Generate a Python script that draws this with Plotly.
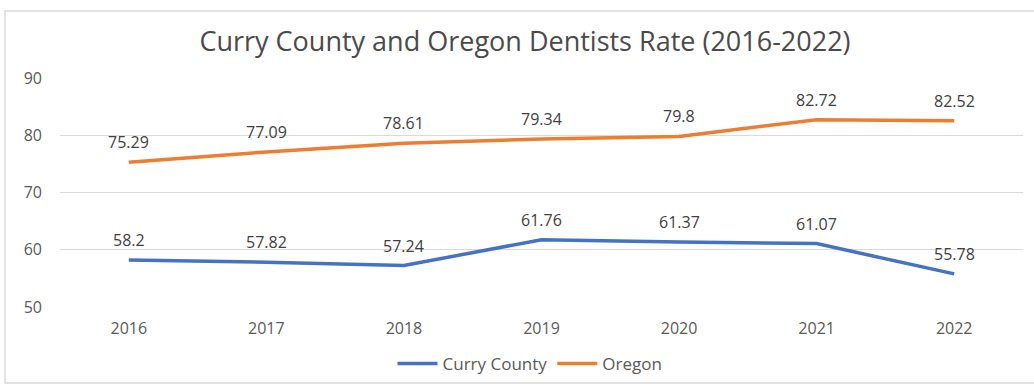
import plotly.graph_objects as go

years = ["2016", "2017", "2018", "2019", "2020", "2021", "2022"]
curry = [58.2, 57.82, 57.24, 61.76, 61.37, 61.07, 55.78]
oregon = [75.29, 77.09, 78.61, 79.34, 79.8, 82.72, 82.52]
y_ticks = [50, 60, 70, 80, 90]

W, H = 1034, 385
L, R, T, B = 60, 11, 78, 78
FONT = "Open Sans"

fig = go.Figure()
fig.add_trace(go.Scatter(
    x=years, y=curry, name="Curry County", mode="lines",
    line=dict(color="#4472C4", width=3.5),
))
fig.add_trace(go.Scatter(
    x=years, y=oregon, name="Oregon", mode="lines",
    line=dict(color="#ED7D31", width=3.5),
))

for series in (curry, oregon):
    for i, v in enumerate(series):
        fig.add_annotation(x=i, y=v, text=f"{v:g}", showarrow=False,
                           yshift=20, xanchor="center", yanchor="middle",
                           font=dict(family=FONT, size=16, color="#404040"))

pw = W - L - R
ph = H - T - B
def px(x):
    return (x - L) / pw
def py(y):
    return (H - B - y) / ph

fig.add_shape(type="rect", xref="paper", yref="paper",
              x0=px(5), x1=px(1080), y0=py(383), y1=py(11),
              line=dict(color="#D9D9D9", width=1.5), fillcolor="rgba(0,0,0,0)", layer="below")

fig.update_layout(
    width=W, height=H,
    margin=dict(l=L, r=R, t=T, b=B, autoexpand=False),
    paper_bgcolor="white", plot_bgcolor="white",
    title=dict(text="Curry County and Oregon Dentists Rate (2016-2022)",
               x=525 / W, xanchor="center", y=1 - 42 / H, yanchor="middle",
               font=dict(family=FONT, size=27, color="#4a4a4a")),
    xaxis=dict(type="category", range=[-0.5, 6.5], showgrid=False, showline=False,
               zeroline=False, ticks="", ticklabelstandoff=10,
               tickfont=dict(family=FONT, size=16, color="#595959")),
    yaxis=dict(range=[50, 90], tickvals=y_ticks, showgrid=True, gridcolor="#D9D9D9",
               gridwidth=1, zeroline=False, showline=False, ticks="",
               ticklabelstandoff=17,
               tickfont=dict(family=FONT, size=16, color="#595959")),
    legend=dict(orientation="h", x=530 / W, xref="container", xanchor="center",
                y=1 - 364 / H, yref="container", yanchor="middle",
                font=dict(family=FONT, size=17, color="#595959"),
                itemwidth=40, tracegroupgap=0),
    showlegend=True,
)

fig.write_html("out.html")
